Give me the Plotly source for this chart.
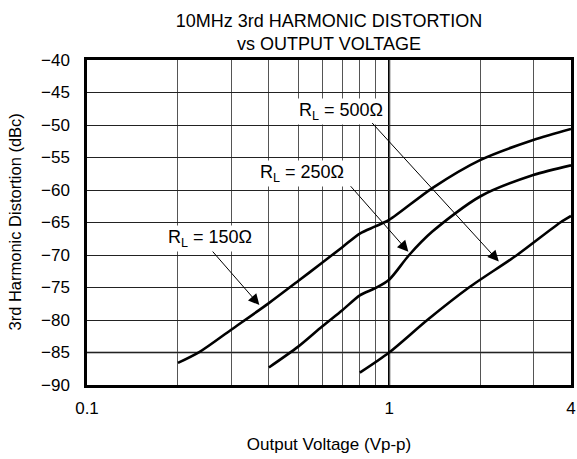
import math
import plotly.graph_objects as go

# ---- data ----
x150 = [0.2, 0.236, 0.3, 0.4, 0.5, 0.6, 0.7, 0.8, 0.9, 1.0, 1.39, 2.0, 3.0, 4.0]
y150 = [-86.6, -84.9, -81.5, -77.4, -74.0, -71.2, -68.8, -66.7, -65.6, -64.6, -59.7, -55.4, -52.3, -50.6]

x250 = [0.4, 0.5, 0.6, 0.7, 0.8, 0.9, 1.0, 1.165, 1.39, 2.0, 3.0, 4.0]
y250 = [-87.3, -84.1, -81.0, -78.5, -76.2, -75.1, -73.8, -70.0, -66.4, -61.0, -57.7, -56.2]

x500 = [0.8, 1.0, 1.338, 1.837, 2.652, 3.686, 4.0]
y500 = [-88.1, -85.0, -80.0, -75.0, -70.0, -65.0, -64.0]

x_grid = [0.1, 0.2, 0.3, 0.4, 0.5, 0.6, 0.7, 0.8, 0.9, 1, 2, 3, 4]
x_ticktext = ["0.1", "", "", "", "", "", "", "", "", "1", "", "", "4"]
y_ticks = [-40, -45, -50, -55, -60, -65, -70, -75, -80, -85, -90]
y_ticktext = ["\u2212" + str(abs(v)) for v in y_ticks]

labels = ["R<sub>L</sub> = 150\u03a9", "R<sub>L</sub> = 250\u03a9", "R<sub>L</sub> = 500\u03a9"]
label_x = [0.255, 0.514, 0.691]
label_y = [-67.4, -57.4, -47.95]
arrow_x = [0.372, 1.158, 2.307]
arrow_y = [-77.7, -69.5, -71.0]
arrow_ax = [-48, -59, -128]
arrow_ay = [-55, -67, -140]

FONT = "Liberation Sans, Arial, Helvetica, sans-serif"

W, H = 577, 459
ML, MR, MT, MB = 87, 6, 60, 74

fig = go.Figure()
for xs, ys in [(x150, y150), (x250, y250), (x500, y500)]:
    fig.add_trace(go.Scatter(x=xs, y=ys, mode="lines",
                             line=dict(color="black", width=2.6, shape="spline", smoothing=0.8),
                             showlegend=False, hoverinfo="skip"))

# bold gridline at 1 V
fig.add_shape(type="line", xref="x", yref="paper", x0=1, x1=1, y0=0, y1=1,
              line=dict(color="black", width=2.2), layer="below")
# slightly heavier line at -85
fig.add_shape(type="line", xref="paper", yref="y", x0=0, x1=1, y0=-85, y1=-85,
              line=dict(color="black", width=1.6), layer="below")

for t, lx, ly in zip(labels, label_x, label_y):
    fig.add_annotation(x=math.log10(lx), y=ly, text=t, showarrow=False,
                       bgcolor="white", font=dict(size=18, color="black", family=FONT),
                       borderpad=1)

for axx, ayy, ax, ay in zip(arrow_x, arrow_y, arrow_ax, arrow_ay):
    fig.add_annotation(x=math.log10(axx), y=ayy, ax=ax, ay=ay, text="",
                       showarrow=True, arrowhead=2, arrowsize=2.2, arrowwidth=1,
                       arrowcolor="black")

# y-axis title
fig.add_annotation(xref="paper", yref="paper", x=0, y=0.5, xanchor="center", yanchor="middle",
                   xshift=-(ML - 14), textangle=-90, showarrow=False,
                   text="3rd Harmonic Distortion (dBc)",
                   font=dict(size=16.5, family=FONT, color="black"))

fig.update_layout(
    width=W, height=H,
    margin=dict(l=ML, r=MR, t=MT, b=MB, autoexpand=False),
    paper_bgcolor="white", plot_bgcolor="white",
    font=dict(family=FONT, size=17, color="black"),
    title=dict(text="10MHz 3rd HARMONIC DISTORTION<br>vs OUTPUT VOLTAGE",
               x=(ML + W - MR) / 2 / W, xanchor="center",
               y=1 - 27 / H, yanchor="top",
               font=dict(size=18, family=FONT, color="black")),
)
fig.update_xaxes(type="log", range=[-1, math.log10(4)],
                 tickvals=x_grid, ticktext=x_ticktext,
                 showgrid=True, gridcolor="#555555", gridwidth=1,
                 showline=True, linecolor="black", linewidth=2.5, mirror=True,
                 ticks="", ticklabelstandoff=6, automargin=False,
                 tickfont=dict(size=17, family=FONT, color="black"),
                 title=dict(text="Output Voltage (Vp-p)", standoff=21,
                            font=dict(size=17, family=FONT, color="black")))
fig.update_yaxes(range=[-90, -40], tickvals=y_ticks, ticktext=y_ticktext,
                 showgrid=True, gridcolor="#222222", gridwidth=1,
                 zeroline=False, automargin=False,
                 showline=True, linecolor="black", linewidth=2.5, mirror=True,
                 ticks="", ticklabelstandoff=11,
                 tickfont=dict(size=17, family=FONT, color="black"))

fig.write_html("out.html", config={"displayModeBar": False},
               post_script="document.body.style.margin='0';document.body.style.overflow='hidden';")
